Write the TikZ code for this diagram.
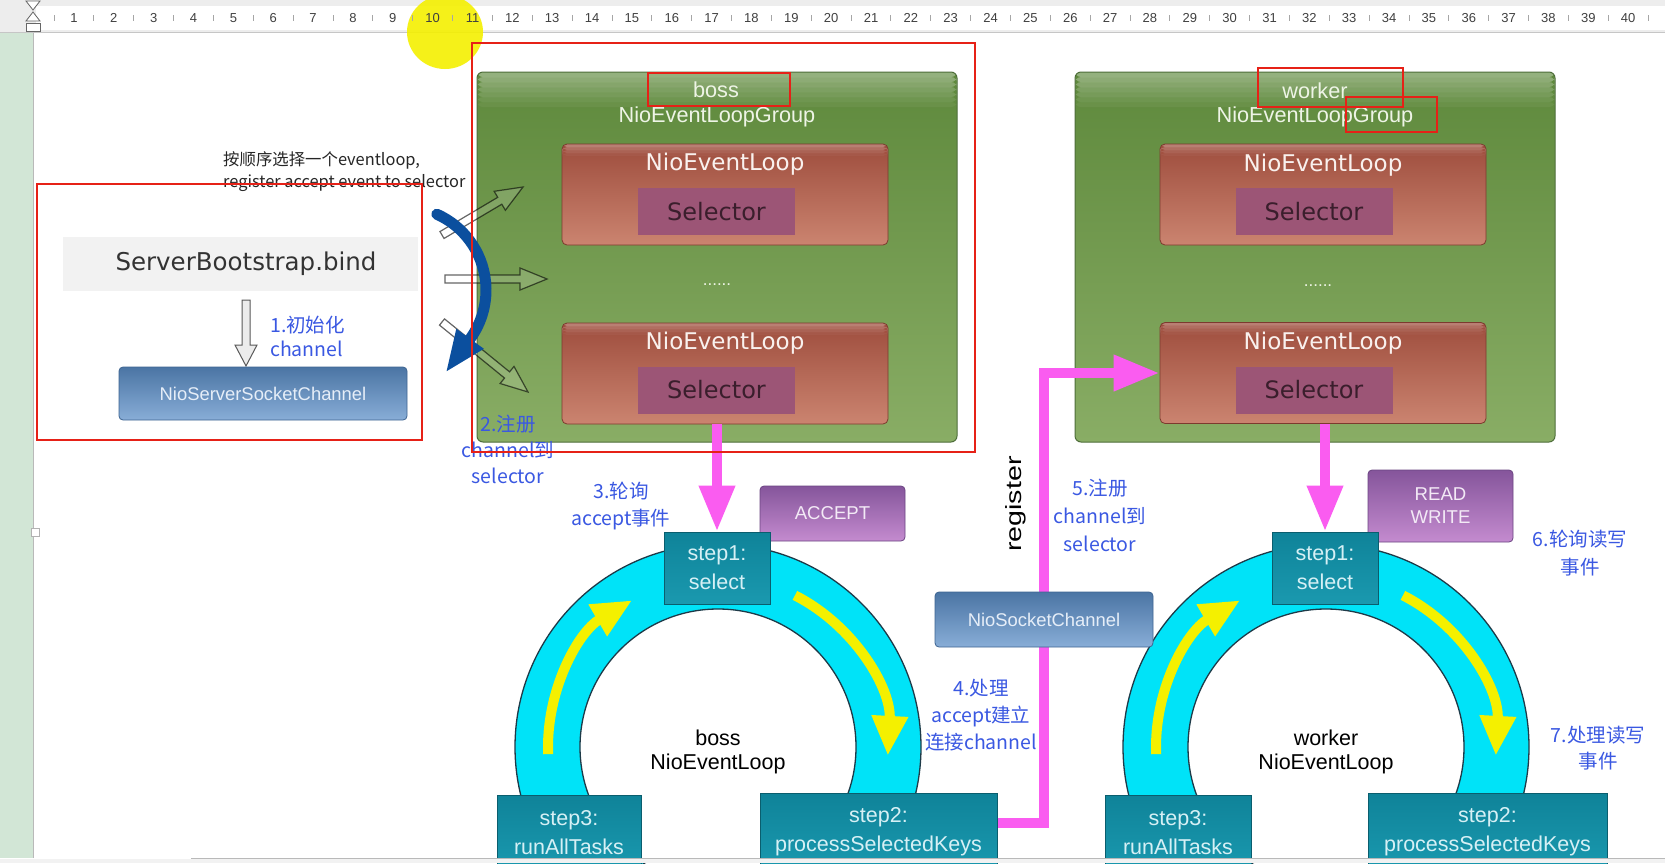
\documentclass[tikz,border=0pt]{standalone}
\usepackage{graphicx}
\usepackage{fontspec}
\setmainfont{Liberation Sans}
\newfontfamily\dvfont{DejaVu Sans}
\newfontfamily\cjkfont{Noto Sans CJK SC}
\usetikzlibrary{arrows.meta,calc}
\newcommand\myfs[2]{\fontsize{#1}{#2}\selectfont}
\newcommand\hollowarrow[6]{%
  \coordinate (hH) at ($(#3)!#6pt!(#2)$);
  \draw[#1] ($(#2)!#4pt!90:(#3)$) -- ($(hH)!#4pt!90:(#3)$) -- ($(hH)!#5pt!90:(#3)$) -- (#3)
    -- ($(hH)!#5pt!-90:(#3)$) -- ($(hH)!#4pt!-90:(#3)$) -- ($(#2)!#4pt!-90:(#3)$) -- cycle;}
\definecolor{rulerbg}{HTML}{EDEDED}
\definecolor{stripc}{HTML}{D2E6D6}
\definecolor{yel}{HTML}{F4F000}
\definecolor{hlred}{HTML}{E62117}
\definecolor{grptop}{HTML}{5E893C}
\definecolor{grpbot}{HTML}{89AD65}
\definecolor{grpborder}{HTML}{4E6E3A}
\definecolor{grptxt}{HTML}{EEF4E6}
\definecolor{neltop}{HTML}{9E4D3D}
\definecolor{nelbot}{HTML}{CB8470}
\definecolor{nelborder}{HTML}{7C3A2E}
\definecolor{neltxt}{HTML}{F9F1EE}
\definecolor{selcol}{HTML}{9C5576}
\definecolor{seltext}{HTML}{3A1E2C}
\definecolor{steptop}{HTML}{0F8399}
\definecolor{stepbot}{HTML}{1A99AF}
\definecolor{stepborder}{HTML}{0A5E6E}
\definecolor{steptext}{HTML}{D6F0F5}
\definecolor{ringcol}{HTML}{00E3F8}
\definecolor{ringline}{HTML}{1E3A48}
\definecolor{evtop}{HTML}{85559B}
\definecolor{evbot}{HTML}{C48BCF}
\definecolor{evborder}{HTML}{6B4482}
\definecolor{evtext}{HTML}{F3EAF6}
\definecolor{chtop}{HTML}{4B75A4}
\definecolor{chbot}{HTML}{88ADD7}
\definecolor{chborder}{HTML}{3E6491}
\definecolor{chtext}{HTML}{E6EEF8}
\definecolor{notecol}{HTML}{3A58E2}
\definecolor{magc}{HTML}{FA5CF0}
\definecolor{bluearc}{HTML}{0B4F9E}
\definecolor{bindbg}{HTML}{F2F2F2}
\begin{document}
\begin{tikzpicture}[x=1pt,y=-1pt,
  grp/.style={draw=grpborder, line width=1pt, rounded corners=6pt, top color=grptop, bottom color=grpbot,
    inner sep=0pt, minimum width=480pt, minimum height=370pt,
    path picture={\foreach \k/\o in {0/.34,1/.29,2/.24,3/.19,4/.14,5/.09,6/.05} {\fill[white,opacity=\o] ([yshift=-\k*5pt]path picture bounding box.north west) rectangle ([yshift=-\k*5pt-5pt]path picture bounding box.north east);}}},
  nel/.style={draw=nelborder, line width=.8pt, rounded corners=5pt, top color=neltop, bottom color=nelbot,
    inner sep=0pt, minimum width=326pt, minimum height=101pt,
    path picture={\foreach \k/\o in {0/.28,1/.18,2/.1,3/.04} {\fill[white,opacity=\o] ([yshift=-\k*3pt]path picture bounding box.north west) rectangle ([yshift=-\k*3pt-3pt]path picture bounding box.north east);}}},
  neltext/.style={text=neltxt, font=\dvfont\myfs{23}{26}, inner sep=0pt},
  selbox/.style={fill=selcol, inner sep=0pt, minimum width=157pt, minimum height=47pt, font=\dvfont\myfs{24}{28}, text=seltext},
  grptext/.style={text=grptxt, font=\myfs{21.7}{26}, inner sep=0pt},
  dotst/.style={text=grptxt, font=\myfs{17}{18}, inner sep=0pt},
  stepbox/.style={draw=stepborder, line width=1pt, top color=steptop, bottom color=stepbot, text=steptext,
    align=center, font=\myfs{21.5}{29}, inner sep=0pt},
  evbox/.style={draw=evborder, line width=.8pt, rounded corners=4pt, top color=evtop, bottom color=evbot,
    text=evtext, align=center, font=\myfs{18.6}{23}, inner sep=0pt, minimum width=145pt},
  chbox/.style={draw=chborder, line width=.8pt, rounded corners=4pt, top color=chtop, bottom color=chbot,
    text=chtext, font=\myfs{18.4}{22}, inner sep=0pt},
  notest/.style={text=notecol, font=\cjkfont\myfs{19.5}{27}, align=center, inner sep=0pt},
  hl/.style={draw=hlred, line width=2.6pt},
  ringst/.style={fill=ringcol, even odd rule},
  ringedge/.style={draw=ringline, line width=1.3pt},
  yarr/.style={draw=yel, line width=10pt, -{Triangle[length=40pt,width=34pt]}},
  magarr/.style={draw=magc, line width=10pt, -{Triangle[length=46pt,width=34pt]}},
  harrow/.style={fill=white, fill opacity=.15, draw=black, draw opacity=.6, line width=1.2pt},
  darrow/.style={fill=gray!15, draw=gray!70!black, line width=1pt},
  rulnum/.style={text=black!75, font=\myfs{13}{14}, inner sep=0pt}
]
\useasboundingbox (0,0) rectangle (1665,863);
\fill[white] (0,0) rectangle (1665,863);
% ruler
\fill[rulerbg] (0,0) rectangle (1665,33);
\fill[white] (36,6) rectangle (1665,30);
\draw[gray!45, line width=.8pt] (0,32.5) -- (1665,32.5);
\fill[yel, opacity=.9] (445,32) ellipse [x radius=38, y radius=37];
\foreach \i in {1,...,40} {\node[rulnum] (rn\i) at ({74+(\i-1)*39.85},18) {\i};}
\foreach \i in {0,...,40} {\draw[gray!70, line width=.8pt] ({54+\i*39.85},15) -- ++(0,6);}
% left strip and page marks
\fill[stripc] (0,33) rectangle (33,858);
\draw[gray!55] (33.5,33) -- (33.5,858);
\draw[gray!80!black, fill=white, line width=.8pt] (26,1) -- (40,1) -- (33,10) -- cycle;
\draw[gray!80!black, fill=white, line width=.8pt] (33,12) -- (40,21) -- (26,21) -- cycle;
\draw[gray!80!black, fill=white, line width=.8pt] (26,23) rectangle (40,31);
\draw[gray!60, fill=white] (31,528) rectangle (39,536);

% top note
\node[text=black!85, font=\cjkfont\myfs{16.4}{22}, align=left, anchor=west, inner sep=0pt] (tnote) at (223,172)
  {按顺序选择一个eventloop,\\register accept event to selector};

% bootstrap part
\node[fill=bindbg, minimum width=355pt, minimum height=54pt, inner sep=0pt] (bind) at (240.5,264) {};
\node[font=\dvfont\myfs{24.5}{28}, text=black!80, inner sep=0pt] (bindt) at (246,264) {ServerBootstrap.bind};
\coordinate (d1) at (246,300);
\coordinate (d2) at (246,366);
\hollowarrow{darrow}{d1}{d2}{4}{11}{21}
\node[chbox, minimum width=288pt, minimum height=53pt] (nssc) at (263,393.5) {NioServerSocketChannel};
\node[notest, font=\cjkfont\myfs{19.5}{24}, anchor=west, align=left] (n1) at (270,336) {1.初始化\\channel};

% boss group
\node[grp] (bgrp) at (717,257) {};
\node[grptext] (bboss) at (716,90) {boss};
\node[grptext] (bgname) at (717,117) {NioEventLoopGroup};
\node[nel] (bnel1) at (725,194.5) {};
\node[neltext] (bnel1t) at (725,164) {NioEventLoop};
\node[selbox] (bsel1) at (716.5,211.5) {Selector};
\node[dotst] (bdots) at (717,285) {......};
\node[nel] (bnel2) at (725,373.5) {};
\node[neltext] (bnel2t) at (725,343) {NioEventLoop};
\node[selbox] (bsel2) at (716.5,390) {Selector};

% worker group
\node[grp] (wgrp) at (1315,257) {};
\node[grptext] (wboss) at (1315,91) {worker};
\node[grptext] (wgname) at (1315,117) {NioEventLoopGroup};
\node[nel] (wnel1) at (1323,194.5) {};
\node[neltext] (wnel1t) at (1323,165) {NioEventLoop};
\node[selbox] (wsel1) at (1314,211.5) {Selector};
\node[dotst] (wdots) at (1318,286) {......};
\node[nel] (wnel2) at (1323,373) {};
\node[neltext] (wnel2t) at (1323,343) {NioEventLoop};
\node[selbox] (wsel2) at (1314,390) {Selector};

% hollow arrows into boss group
\coordinate (h1a) at (442,235); \coordinate (h1b) at (523,187);
\coordinate (h2a) at (445,279); \coordinate (h2b) at (547,279);
\coordinate (h3a) at (442,322); \coordinate (h3b) at (528,392);
\hollowarrow{harrow}{h1a}{h1b}{4}{11}{27}
\hollowarrow{harrow}{h2a}{h2b}{4}{11}{27}
\hollowarrow{harrow}{h3a}{h3b}{4}{11}{27}
% blue curved arrow
\coordinate (bac) at (403,290);
\draw[bluearc, line width=11pt, line cap=round] ($(bac)+(-66:83)$) arc (-66:36:83);
\fill[bluearc] (456.3,328.8) -- (483.9,348.8) -- (446.6,371.2) -- cycle;
\node[notest, font=\cjkfont\myfs{19.5}{26}] (n2) at (508,449) {2.注册\\channel到\\selector};

% boss ring
\coordinate (bc) at (718,747);
\fill[ringst] (bc) circle (203) (bc) circle (138);
\draw[ringedge] (bc) circle (203) (bc) circle (138);
\draw[yarr] ($(bc)+(177.6:170)$) arc (177.6:239.7:170);
\draw[yarr] ($(bc)+(296.9:170)$) arc (296.9:363:170);
\node[align=center, font=\myfs{21.5}{24}, inner sep=0pt] (bring) at (718,752) {boss\\NioEventLoop};
\node[evbox, minimum height=55pt] (acc) at (832.5,513.5) {ACCEPT};
\node[stepbox, minimum width=106pt, minimum height=72pt] (bstep1) at (717,568) {step1:\\select};
\node[stepbox, minimum width=144pt, minimum height=76pt] (bstep3) at (569,833) {step3:\\runAllTasks};
\node[stepbox, minimum width=237pt, minimum height=77pt] (bstep2) at (878.5,832) {step2:\\processSelectedKeys};

% worker ring
\coordinate (wc) at (1326,747);
\fill[ringst] (wc) circle (203) (wc) circle (138);
\draw[ringedge] (wc) circle (203) (wc) circle (138);
\draw[yarr] ($(wc)+(177.6:170)$) arc (177.6:239.7:170);
\draw[yarr] ($(wc)+(296.9:170)$) arc (296.9:363:170);
\node[align=center, font=\myfs{21.5}{24}, inner sep=0pt] (wring) at (1326,752) {worker\\NioEventLoop};
\node[evbox, minimum height=72pt] (rw) at (1440.5,506) {READ\\WRITE};
\node[stepbox, minimum width=106pt, minimum height=72pt] (wstep1) at (1325,568) {step1:\\select};
\node[stepbox, minimum width=146pt, minimum height=76pt] (wstep3) at (1178,833) {step3:\\runAllTasks};
\node[stepbox, minimum width=239pt, minimum height=77pt] (wstep2) at (1487.5,832) {step2:\\processSelectedKeys};

% magenta connectors
\draw[magarr] (bstep1.north |- bnel2.south) -- (bstep1.north);
\draw[magarr] (wstep1.north |- wnel2.south) -- (wstep1.north);
\coordinate (mj) at (1044,823);
\draw[magarr] (bstep2.east |- mj) -- (mj) -- (mj |- wnel2.west) -- (wnel2.west);
\node[chbox, minimum width=218pt, minimum height=55pt] (nsc) at (1044,619.5) {NioSocketChannel};
\node[rotate=90, font=\myfs{22}{24}, inner sep=0pt] (reg) at (1016,504) {\scalebox{1.3}[1]{register}};

% notes
\node[notest] (n3) at (621,506) {3.轮询\\accept事件};
\node[notest] (n4) at (981,715.5) {4.处理\\accept建立\\连接channel};
\node[notest, font=\cjkfont\myfs{19.5}{28}] (n5) at (1100,515) {5.注册\\channel到\\selector};
\node[notest, font=\cjkfont\myfs{19.5}{28}] (n6) at (1580,553) {6.轮询读写\\事件};
\node[notest, font=\cjkfont\myfs{19.5}{26}] (n7) at (1598,748) {7.处理读写\\事件};

% red highlight boxes
\draw[hl] (37,184) rectangle (422,440);
\draw[hl] (472,43) rectangle (975,452);
\draw[hl] (648,73) rectangle (790,106);
\draw[hl] (1258,68) rectangle (1403,107);
\draw[hl] (1346,97) rectangle (1437,132);

% bottom edge of the window
\fill[gray!10] (0,859) rectangle (1665,863);
\draw[gray!55] (191,858.5) -- (1665,858.5);
\end{tikzpicture}
\end{document}
